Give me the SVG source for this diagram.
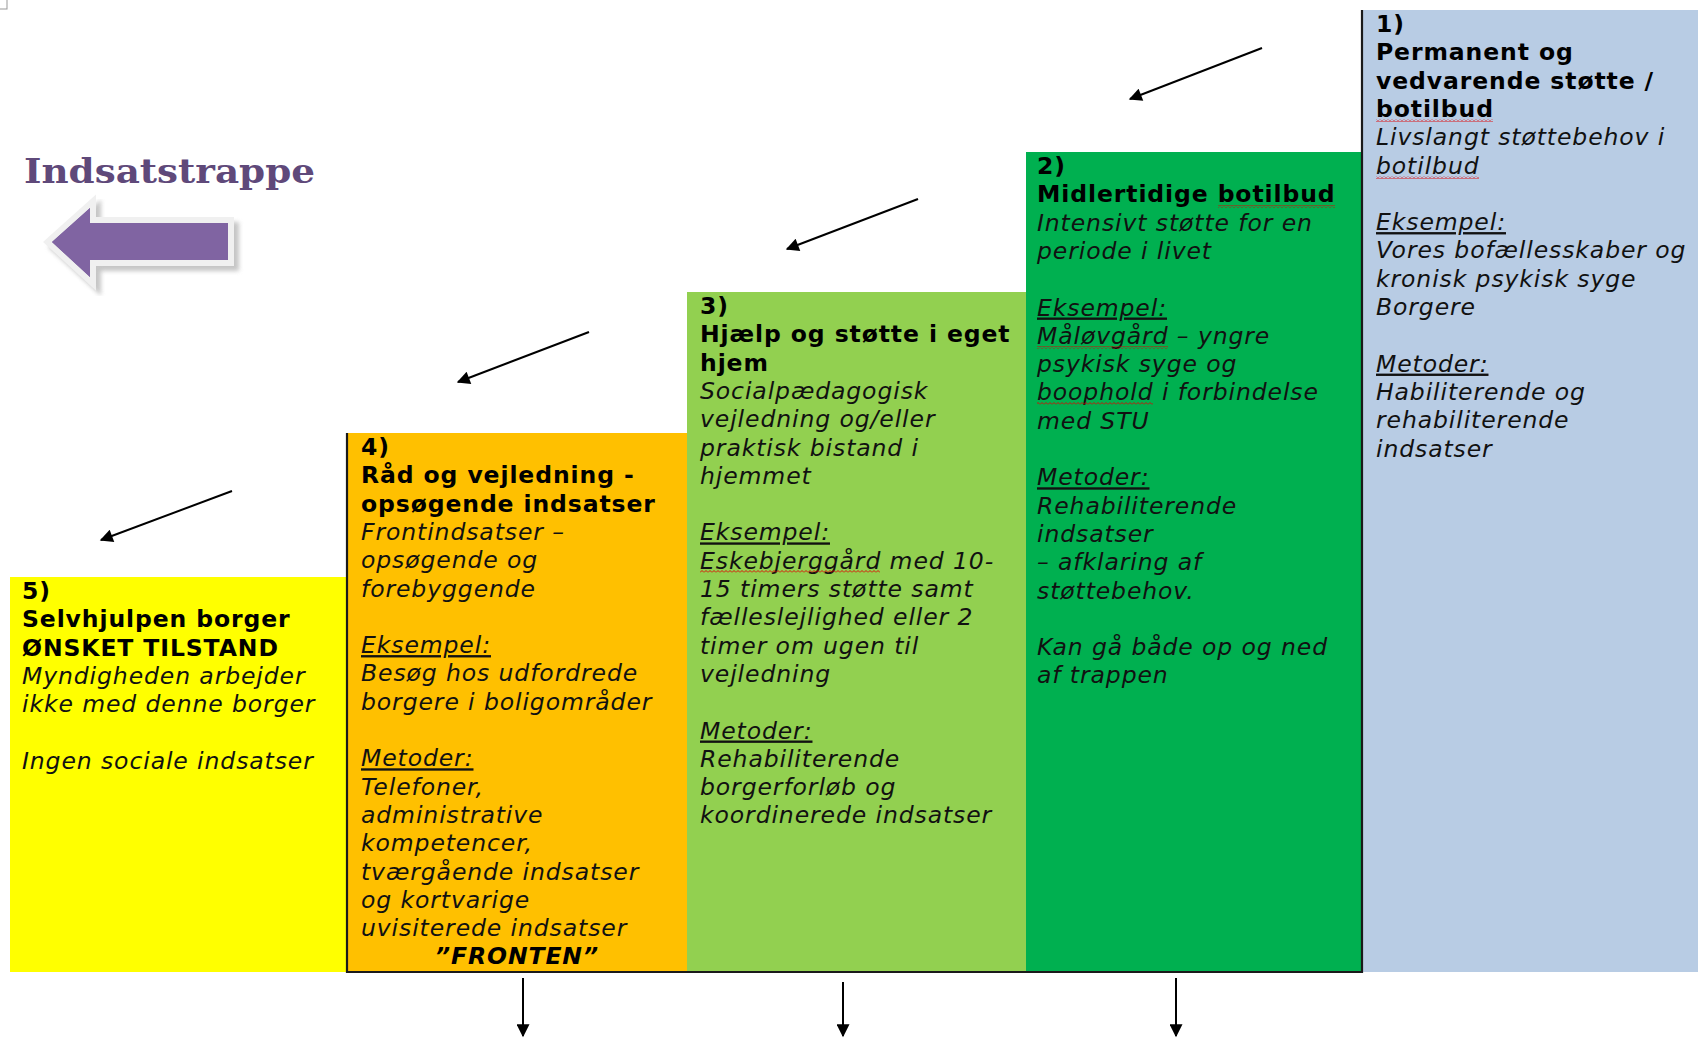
<svg xmlns="http://www.w3.org/2000/svg" width="1698" height="1038" viewBox="0 0 1698 1038">
<style>
.t{font-family:"DejaVu Sans",Verdana,sans-serif;font-size:23.5px;letter-spacing:0.9px;fill:#000}
.b{font-weight:bold}
.i{font-style:italic;fill:#111}
.u{text-decoration:underline}
.bd{stroke:#1a1a1a;stroke-width:2.2;fill:none}
.sq{fill:url(#squig)}
.con{stroke:#000;stroke-width:2;fill:none;marker-end:url(#ah)}
</style>
<defs>
<marker id="ah" viewBox="0 0 10 10" refX="9" refY="5" markerWidth="7.5" markerHeight="6.5" orient="auto" markerUnits="strokeWidth">
<path d="M0,0 L10,5 L0,10 z" fill="#000"/>
</marker>
<pattern id="squig" x="0" y="0" width="4" height="3" patternUnits="userSpaceOnUse">
<path d="M0,2.5 L2,0.5 L4,2.5" fill="none" stroke="#e00000" stroke-width="0.9"/>
</pattern>
<filter id="shadow" x="-20%" y="-20%" width="140%" height="140%">
<feGaussianBlur stdDeviation="2"/>
</filter>
</defs>
<rect width="1698" height="1038" fill="#fff"/>
<rect x="-1" y="-1" width="8" height="10" fill="#fff" stroke="#999" stroke-width="1"/>

<g id="title">
<text x="24" y="183" font-family="'DejaVu Serif',Cambria,serif" font-weight="bold" font-size="33" fill="#5f497a" textLength="291" lengthAdjust="spacingAndGlyphs">Indsatstrappe</text>
</g>

<g id="big-arrow">
<polygon points="52,242 90,208 90,223 228,223 228,260 90,260 90,277" transform="translate(5,5)" fill="#a0a0a0" stroke="#a0a0a0" stroke-width="12" stroke-linejoin="miter" filter="url(#shadow)" opacity="0.6"/>
<polygon points="52,242 90,208 90,223 228,223 228,260 90,260 90,277" fill="#8064a2" stroke="#f0f0f0" stroke-width="12" stroke-linejoin="miter" paint-order="stroke"/>
<polygon points="52,242 90,208 90,223 228,223 228,260 90,260 90,277" fill="#8064a2"/>
</g>

<g id="step5">
<rect x="10" y="577" width="337" height="395" fill="#ffff00"/>
<text class="t">
<tspan class="b" x="22" y="599">5)</tspan>
<tspan class="b" x="22" y="627.3">Selvhjulpen borger</tspan>
<tspan class="b" x="22" y="655.6">ØNSKET TILSTAND</tspan>
<tspan class="i" x="22" y="683.9">Myndigheden arbejder</tspan>
<tspan class="i" x="22" y="712.2">ikke med denne borger</tspan>
<tspan class="i" x="22" y="768.8">Ingen sociale indsatser</tspan>
</text>
</g>

<g id="step4">
<rect x="347" y="433" width="340" height="539" fill="#ffc000"/>
<text class="t">
<tspan class="b" x="361" y="455">4)</tspan>
<tspan class="b" x="361" y="483.3">Råd og vejledning -</tspan>
<tspan class="b" x="361" y="511.6">opsøgende indsatser</tspan>
<tspan class="i" x="361" y="539.9">Frontindsatser –</tspan>
<tspan class="i" x="361" y="568.2">opsøgende og</tspan>
<tspan class="i" x="361" y="596.5">forebyggende</tspan>
<tspan class="i u" x="361" y="653.1">Eksempel:</tspan>
<tspan class="i" x="361" y="681.4">Besøg hos udfordrede</tspan>
<tspan class="i" x="361" y="709.7">borgere i boligområder</tspan>
<tspan class="i u" x="361" y="766.3">Metoder:</tspan>
<tspan class="i" x="361" y="794.6">Telefoner,</tspan>
<tspan class="i" x="361" y="822.9">administrative</tspan>
<tspan class="i" x="361" y="851.2">kompetencer,</tspan>
<tspan class="i" x="361" y="879.5">tværgående indsatser</tspan>
<tspan class="i" x="361" y="907.8">og kortvarige</tspan>
<tspan class="i" x="361" y="936.1">uvisiterede indsatser</tspan>
</text>
<text class="t b i" x="517" y="964.4" text-anchor="middle" style="fill:#000">”FRONTEN”</text>
</g>

<g id="step3">
<rect x="687" y="292" width="339" height="680" fill="#92d050"/>
<text class="t">
<tspan class="b" x="700" y="314">3)</tspan>
<tspan class="b" x="700" y="342.3">Hjælp og støtte i eget</tspan>
<tspan class="b" x="700" y="370.6">hjem</tspan>
<tspan class="i" x="700" y="398.9">Socialpædagogisk</tspan>
<tspan class="i" x="700" y="427.2">vejledning og/eller</tspan>
<tspan class="i" x="700" y="455.5">praktisk bistand i</tspan>
<tspan class="i" x="700" y="483.8">hjemmet</tspan>
<tspan class="i u" x="700" y="540.4">Eksempel:</tspan>
<tspan class="i" x="700" y="568.7">Eskebjerggård med 10-</tspan>
<tspan class="i" x="700" y="597">15 timers støtte samt</tspan>
<tspan class="i" x="700" y="625.3">fælleslejlighed eller 2</tspan>
<tspan class="i" x="700" y="653.6">timer om ugen til</tspan>
<tspan class="i" x="700" y="681.9">vejledning</tspan>
<tspan class="i u" x="700" y="738.5">Metoder:</tspan>
<tspan class="i" x="700" y="766.8">Rehabiliterende</tspan>
<tspan class="i" x="700" y="795.1">borgerforløb og</tspan>
<tspan class="i" x="700" y="823.4">koordinerede indsatser</tspan>
</text>
<rect class="sq" x="700" y="570" width="180" height="3"/>
</g>

<g id="step2">
<rect x="1026" y="152" width="336" height="820" fill="#00b050"/>
<text class="t">
<tspan class="b" x="1037" y="174">2)</tspan>
<tspan class="b" x="1037" y="202.3">Midlertidige botilbud</tspan>
<tspan class="i" x="1037" y="230.6">Intensivt støtte for en</tspan>
<tspan class="i" x="1037" y="258.9">periode i livet</tspan>
<tspan class="i u" x="1037" y="315.5">Eksempel:</tspan>
<tspan class="i" x="1037" y="343.8">Måløvgård – yngre</tspan>
<tspan class="i" x="1037" y="372.1">psykisk syge og</tspan>
<tspan class="i" x="1037" y="400.4">boophold i forbindelse</tspan>
<tspan class="i" x="1037" y="428.7">med STU</tspan>
<tspan class="i u" x="1037" y="485.3">Metoder:</tspan>
<tspan class="i" x="1037" y="513.6">Rehabiliterende</tspan>
<tspan class="i" x="1037" y="541.9">indsatser</tspan>
<tspan class="i" x="1037" y="570.2">– afklaring af</tspan>
<tspan class="i" x="1037" y="598.5">støttebehov.</tspan>
<tspan class="i" x="1037" y="655.1">Kan gå både op og ned</tspan>
<tspan class="i" x="1037" y="683.4">af trappen</tspan>
</text>
<rect class="sq" x="1218" y="205" width="117" height="3"/>
<rect class="sq" x="1037" y="346" width="131" height="3"/>
<rect class="sq" x="1037" y="402" width="116" height="3"/>
</g>

<g id="step1">
<rect x="1362" y="10" width="336" height="962" fill="#b8cce4"/>
<text class="t">
<tspan class="b" x="1376" y="32">1)</tspan>
<tspan class="b" x="1376" y="60.3">Permanent og</tspan>
<tspan class="b" x="1376" y="88.6">vedvarende støtte /</tspan>
<tspan class="b" x="1376" y="116.9">botilbud</tspan>
<tspan class="i" x="1376" y="145.2">Livslangt støttebehov i</tspan>
<tspan class="i" x="1376" y="173.5">botilbud</tspan>
<tspan class="i u" x="1376" y="230.1">Eksempel:</tspan>
<tspan class="i" x="1376" y="258.4">Vores bofællesskaber og</tspan>
<tspan class="i" x="1376" y="286.7">kronisk psykisk syge</tspan>
<tspan class="i" x="1376" y="315">Borgere</tspan>
<tspan class="i u" x="1376" y="371.6">Metoder:</tspan>
<tspan class="i" x="1376" y="399.9">Habiliterende og</tspan>
<tspan class="i" x="1376" y="428.2">rehabiliterende</tspan>
<tspan class="i" x="1376" y="456.5">indsatser</tspan>
</text>
<rect class="sq" x="1376" y="119" width="117" height="3"/>
<rect class="sq" x="1376" y="176" width="103" height="3"/>
</g>

<g id="borders">
<line class="bd" x1="347" y1="433" x2="347" y2="973"/>
<line class="bd" x1="1362" y1="10" x2="1362" y2="973"/>
<line class="bd" x1="346" y1="972" x2="1363" y2="972"/>
</g>

<g id="connectors">
<line class="con" x1="1262" y1="48" x2="1130" y2="99"/>
<line class="con" x1="918" y1="199" x2="787" y2="249"/>
<line class="con" x1="589" y1="332" x2="458" y2="382"/>
<line class="con" x1="232" y1="491" x2="101" y2="540"/>
<line class="con" x1="523" y1="978" x2="523" y2="1036"/>
<line class="con" x1="843" y1="982" x2="843" y2="1036"/>
<line class="con" x1="1176" y1="978" x2="1176" y2="1036"/>
</g>
</svg>
